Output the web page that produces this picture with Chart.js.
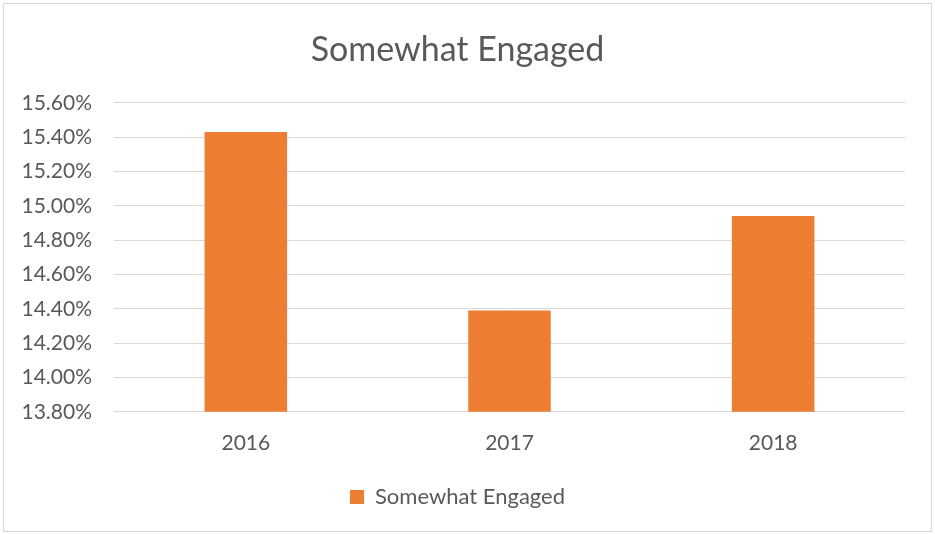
<!DOCTYPE html>
<html>
<head>
<meta charset="utf-8">
<script src="https://cdn.jsdelivr.net/npm/chart.js@4/dist/chart.umd.min.js"></script>
<style>
    body { margin: 0; background: #fff; }
    #frame { position: absolute; left: 3px; top: 3px; width: 927px; height: 527px; border: 1px solid #d9d9d9; }
    #chart { position: absolute; left: 0; top: 0; }
</style>
</head>
<body>
<div id="frame"></div>
<canvas id="chart" width="935" height="534"></canvas>
<script>
// Chart data
const years = ["2016", "2017", "2018"];
const engagedValues = [15.43, 14.39, 14.94]; // percent
const yTicks = { min: 13.8, max: 15.6, step: 0.2 };

const textColour = "#595959";
const fontName = "Lato, 'Open Sans', sans-serif";

const ctx = document.getElementById("chart").getContext("2d");
const chart = new Chart(ctx, {
    type: "bar",
    data: {
        labels: years,
        datasets: [{
            label: "Somewhat Engaged",
            data: engagedValues,
            backgroundColor: "#ED7D31",
            borderWidth: 0,
            categoryPercentage: 1,
            barPercentage: 0.313
        }]
    },
    options: {
        responsive: false,
        animation: false,
        layout: {
            padding: { left: 10, right: 30, top: 14, bottom: 16 }
        },
        plugins: {
            title: {
                display: true,
                text: "Somewhat Engaged",
                color: textColour,
                font: { family: fontName, size: 34, weight: "normal" },
                padding: { top: 16, bottom: 32 }
            },
            legend: {
                position: "bottom",
                labels: {
                    color: textColour,
                    font: { family: fontName, size: 22 },
                    boxWidth: 14,
                    boxHeight: 14,
                    padding: 6
                }
            },
            tooltip: { enabled: false }
        },
        scales: {
            y: {
                min: yTicks.min,
                max: yTicks.max,
                ticks: {
                    stepSize: yTicks.step,
                    color: textColour,
                    font: { family: fontName, size: 21 },
                    padding: 22,
                    callback: v => v.toFixed(2) + "%"
                },
                grid: { color: "#d9d9d9", lineWidth: 1, drawTicks: false },
                border: { display: false },
                afterFit: scale => { scale.width = 104; }
            },
            x: {
                ticks: {
                    color: textColour,
                    font: { family: fontName, size: 21 },
                    padding: 19
                },
                grid: { display: false, drawTicks: false },
                border: { display: false },
                afterFit: scale => { scale.height += 5; }
            }
        }
    }
});
</script>
</body>
</html>
